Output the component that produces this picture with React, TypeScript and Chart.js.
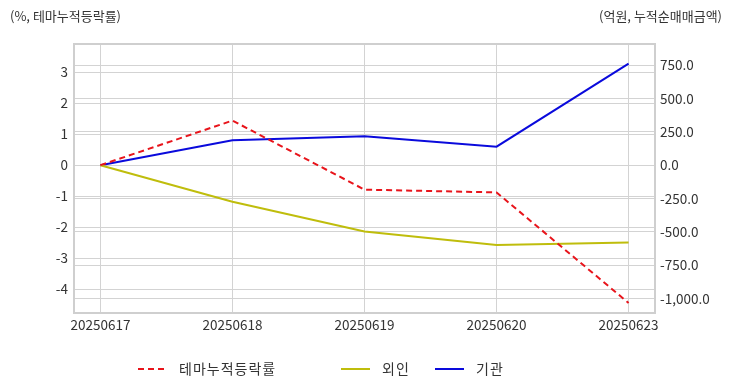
import React, { useEffect, useRef } from "react";
import { Chart, registerables } from "chart.js";

Chart.register(...registerables);

const dates = ["20250617", "20250618", "20250619", "20250620", "20250623"];
const themeRate = [0, 1.44, -0.79, -0.88, -4.45];
const foreign = [0, -275, -497, -599, -580];
const institution = [0, 187, 217, 139, 761];
const seriesNames = ["테마누적등락률", "외인", "기관"];
const leftTicks = [-4, -3, -2, -1, 0, 1, 2, 3];
const rightTicks = [-1000, -750, -500, -250, 0, 250, 500, 750];
const leftTitle = "(%, 테마누적등락률)";
const rightTitle = "(억원, 누적순매매금액)";

const FONT = "'Noto Sans CJK KR', 'Noto Sans', sans-serif";
const TEXT = "#333333";
const GRID = "#d3d3d3";

const legendStarts = [138, 341, 435];

const framePlugin = {
  id: "frame",
  beforeDatasetsDraw(chart: any) {
    const { ctx, chartArea } = chart;
    ctx.save();
    ctx.strokeStyle = "#cfcfcf";
    ctx.lineWidth = 2;
    ctx.strokeRect(chartArea.left, chartArea.top, chartArea.right - chartArea.left, chartArea.bottom - chartArea.top);
    ctx.restore();
  },
  afterDraw(chart: any) {
    const { ctx } = chart;
    ctx.save();
    ctx.fillStyle = TEXT;
    ctx.font = `13px ${FONT}`;
    ctx.textBaseline = "middle";
    ctx.textAlign = "left";
    ctx.fillText(leftTitle, 10, 16);
    ctx.textAlign = "right";
    ctx.fillText(rightTitle, 722, 16);
    // legend
    ctx.font = `14px ${FONT}`;
    ctx.textAlign = "left";
    try { (ctx as any).letterSpacing = "1px"; } catch (e) {}
    const y = 369;
    chart.data.datasets.forEach((ds: any, i: number) => {
      const x0 = legendStarts[i];
      ctx.save();
      ctx.strokeStyle = ds.borderColor;
      ctx.lineWidth = 2;
      ctx.setLineDash(ds.borderDash || []);
      ctx.beginPath();
      ctx.moveTo(x0, y);
      ctx.lineTo(x0 + 29, y);
      ctx.stroke();
      ctx.restore();
      ctx.fillStyle = TEXT;
      ctx.fillText(ds.label, x0 + 41, y);
    });
    ctx.restore();
  },
};

export default function App() {
  const ref = useRef<HTMLCanvasElement>(null);
  useEffect(() => {
    if (!ref.current) return;
    const toPts = (arr: number[]) => arr.map((v, i) => ({ x: i, y: v }));
    const tickFont = { family: FONT, size: 13.5 };
    const chart = new Chart(ref.current, {
      type: "line",
      data: {
        datasets: [
          {
            label: seriesNames[0],
            data: toPts(themeRate),
            borderColor: "#e8141b",
            borderWidth: 2,
            borderDash: [6, 4],
            pointRadius: 0,
            tension: 0,
            yAxisID: "y",
          },
          {
            label: seriesNames[1],
            data: toPts(foreign),
            borderColor: "#bfbd0c",
            borderWidth: 2,
            pointRadius: 0,
            tension: 0,
            yAxisID: "y1",
          },
          {
            label: seriesNames[2],
            data: toPts(institution),
            borderColor: "#0a0adc",
            borderWidth: 2,
            pointRadius: 0,
            tension: 0,
            yAxisID: "y1",
          },
        ],
      },
      options: {
        animation: false,
        responsive: true,
        maintainAspectRatio: false,
        layout: { padding: { top: 44, left: 0, right: 0, bottom: 0 } },
        plugins: { legend: { display: false }, tooltip: { enabled: false } },
        scales: {
          x: {
            type: "linear",
            min: -0.2,
            max: 4.2,
            afterFit: (s: any) => { s.height = 79; },
            afterBuildTicks: (s: any) => { s.ticks = dates.map((_, i) => ({ value: i })); },
            border: { display: false },
            grid: { color: GRID, drawTicks: false },
            ticks: {
              autoSkip: false,
              maxRotation: 0,
              padding: 4,
              color: TEXT,
              font: tickFont,
              callback: (v: any) => dates[v],
            },
          },
          y: {
            position: "left",
            min: -4.774,
            max: 3.913,
            afterFit: (s: any) => { s.width = 74; },
            afterBuildTicks: (s: any) => { s.ticks = leftTicks.map((v) => ({ value: v })); },
            border: { display: false },
            grid: { color: GRID, drawTicks: false },
            ticks: {
              padding: 6,
              color: TEXT,
              font: tickFont,
              callback: (v: any) => String(v),
            },
          },
          y1: {
            position: "right",
            min: -1108.6,
            max: 908.6,
            afterFit: (s: any) => { s.width = 77; },
            afterBuildTicks: (s: any) => { s.ticks = rightTicks.map((v) => ({ value: v })); },
            border: { display: false },
            grid: { color: GRID, drawTicks: false },
            ticks: {
              padding: 5,
              color: TEXT,
              font: tickFont,
              callback: (v: any) =>
                Number(v).toLocaleString("en-US", { minimumFractionDigits: 1, maximumFractionDigits: 1 }),
            },
          },
        },
      },
      plugins: [framePlugin],
    });
    return () => chart.destroy();
  }, []);
  return (
    <div style={{ position: "fixed", left: 0, top: 0, width: 732, height: 392, background: "#fff" }}>
      <canvas ref={ref} />
    </div>
  );
}
